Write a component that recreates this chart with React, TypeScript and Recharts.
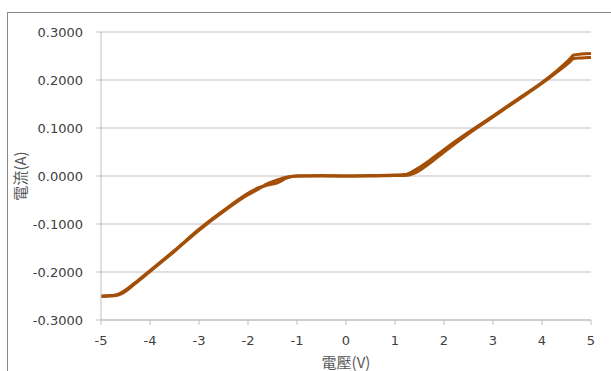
import { LineChart, Line, XAxis, YAxis, CartesianGrid, Label } from 'recharts';

// voltage sweep points (V)
const voltages = [
  -5, -4.8, -4.7, -4.6, -4.3, -4, -3.5, -3, -2.5, -2, -1.8, -1.6, -1.4, -1.2, -1,
  -0.5, 0, 0.5, 1, 1.2, 1.4, 1.7, 2, 2.5, 3, 3.5, 4, 4.3, 4.55, 4.65, 4.8, 5,
];

// current on the forward sweep (A)
const forwardCurrent = [
  -0.25, -0.249, -0.248, -0.244, -0.222, -0.197, -0.155, -0.111, -0.072, -0.036,
  -0.025, -0.019, -0.014, -0.004, 0.0, 0.001, 0.0, 0.001, 0.002, 0.003, 0.012,
  0.032, 0.055, 0.091, 0.125, 0.16, 0.195, 0.219, 0.242, 0.252, 0.254, 0.255,
];

// current on the reverse sweep (A)
const reverseCurrent = [
  -0.251, -0.25, -0.249, -0.246, -0.224, -0.199, -0.157, -0.113, -0.074, -0.039,
  -0.028, -0.016, -0.008, -0.002, 0.0, 0.0, 0.0, 0.0, 0.001, 0.001, 0.006, 0.026,
  0.05, 0.088, 0.123, 0.158, 0.193, 0.216, 0.236, 0.245, 0.246, 0.247,
];

const xTicks = [-5, -4, -3, -2, -1, 0, 1, 2, 3, 4, 5];
const yTicks = [-0.3, -0.2, -0.1, 0, 0.1, 0.2, 0.3];

const data = voltages.map((v, i) => ({
  v,
  forward: forwardCurrent[i],
  reverse: reverseCurrent[i],
}));

const tickStyle = { fontSize: 13, fill: '#404040', fontFamily: 'DejaVu Sans' };
const labelStyle = {
  fontSize: 15,
  fill: '#595959',
  fontFamily: '"Noto Sans CJK TC"',
};
const lineColor = '#a34f08';
const gray = '#bfbfbf';

export default function App() {
  return (
    <div
      style={{
        position: 'absolute',
        left: 0,
        top: 0,
        width: 611,
        height: 371,
        overflow: 'hidden',
        background: '#fff',
      }}
    >
      <div
        style={{
          position: 'absolute',
          left: 7,
          top: 12,
          width: 640,
          height: 400,
          border: '1px solid #888',
        }}
      />
      <div style={{ position: 'absolute', left: 0, top: 0 }}>
        <LineChart
          width={611}
          height={371}
          data={data}
          margin={{ top: 32, right: 20, left: 0, bottom: 0 }}
        >
          <CartesianGrid vertical={false} stroke={gray} />
          <XAxis
            dataKey="v"
            type="number"
            domain={[-5, 5]}
            ticks={xTicks}
            tick={tickStyle}
            tickSize={5}
            tickMargin={11}
            axisLine={{ stroke: gray }}
            tickLine={{ stroke: gray }}
            height={51}
          >
            <Label value="電壓(V)" position="insideBottom" offset={3} style={labelStyle} />
          </XAxis>
          <YAxis
            type="number"
            domain={[-0.3, 0.3]}
            ticks={yTicks}
            tickFormatter={(t: number) => (Math.abs(t) < 1e-9 ? 0 : t).toFixed(4)}
            tick={tickStyle}
            tickSize={5}
            tickMargin={13}
            axisLine={{ stroke: gray }}
            tickLine={{ stroke: gray }}
            width={101}
            interval={0}
          >
            <Label
              value="電流(A)"
              angle={-90}
              position="insideLeft"
              offset={21}
              style={{ ...labelStyle, textAnchor: 'middle' }}
            />
          </YAxis>
          <Line
            type="monotone"
            dataKey="forward"
            stroke={lineColor}
            strokeWidth={3}
            dot={false}
            isAnimationActive={false}
          />
          <Line
            type="monotone"
            dataKey="reverse"
            stroke={lineColor}
            strokeWidth={3}
            dot={false}
            isAnimationActive={false}
          />
        </LineChart>
      </div>
    </div>
  );
}
